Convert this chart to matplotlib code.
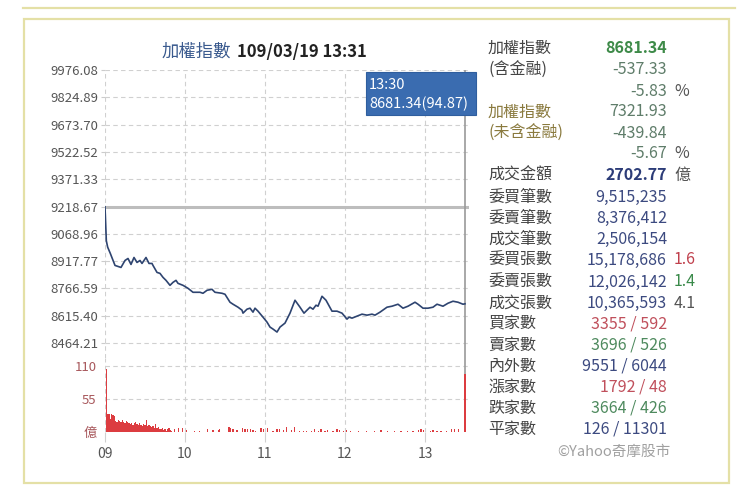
import matplotlib
matplotlib.use("Agg")
import matplotlib.pyplot as plt
from matplotlib.patches import Rectangle
from matplotlib.lines import Line2D

plt.rcParams['font.family'] = ['Noto Sans CJK TC', 'DejaVu Sans']

# ---------------- data ----------------
title_name = "加權指數"
title_time = "109/03/19 13:31"
prev_close = 9218.67
price_ticks = [9976.08, 9824.89, 9673.70, 9522.52, 9371.33, 9218.67,
               9068.96, 8917.77, 8766.59, 8615.40, 8464.21]
hour_ticks = [0, 60, 120, 180, 240]
hour_labels = ["09", "10", "11", "12", "13"]
vol_ticks = [0, 55, 110]
vol_tick_labels = ["億", "55", "110"]

line_minutes = [0, 1, 2, 4, 7.5, 9.75, 12, 15, 17.25, 19.5, 21.75, 24, 26.25, 27.75,
                30.75, 33, 35.25, 36, 39, 41.25, 43.5, 45.75, 48.75, 51, 53.25, 54.75,
                58.5, 62.25, 66, 71.25, 73.5, 76.5, 80.25, 82.5, 87.75, 90, 93.75, 96,
                99.75, 102.75, 103.5, 106.5, 108.75, 111, 112.5, 114.75, 118.5, 121.5,
                123.75, 126, 129, 131.25, 135, 138.75, 142.5, 146.25, 149.25, 151.5,
                153.75, 156, 158.25, 159.75, 162.75, 165.75, 170.25, 174, 177.75, 181.5,
                183, 185.25, 189, 192.75, 196.5, 200.25, 202.5, 206.25, 211.5, 215.25,
                219.75, 223.5, 227.25, 232.5, 234.75, 238.5, 242.25, 246, 249, 253.5,
                257.25, 261, 264.75, 268.5, 270]
line_values = [9218.67, 9030, 8995, 8960, 8893.8, 8888.2, 8882.7, 8921.3, 8932.3, 8899.3,
               8937.8, 8910.3, 8921.3, 8904.8, 8937.8, 8904.8, 8904.8, 8893.8, 8855.2,
               8849.7, 8827.7, 8811.2, 8783.6, 8800.1, 8811.2, 8794.6, 8783.6, 8767.1,
               8745.1, 8745.1, 8739.6, 8756.1, 8761.6, 8745.1, 8739.6, 8734.1, 8690.0,
               8679.0, 8662.5, 8646.0, 8629.5, 8651.5, 8657.0, 8635.0, 8657.0, 8640.5,
               8607.4, 8579.9, 8552.4, 8541.4, 8524.9, 8552.4, 8574.4, 8629.5, 8701.0,
               8662.5, 8629.5, 8646.0, 8662.5, 8651.5, 8673.5, 8668.0, 8723.0, 8701.0,
               8640.5, 8640.5, 8629.5, 8596.4, 8607.4, 8601.9, 8612.9, 8623.9, 8618.4,
               8623.9, 8618.4, 8635.0, 8662.5, 8668.0, 8679.0, 8657.0, 8668.0, 8690.0,
               8679.0, 8657.0, 8657.0, 8662.5, 8679.0, 8668.0, 8684.5, 8695.5, 8690.0,
               8679.0, 8681.34]

vol_minutes = [1, 2, 3, 4, 5, 6, 7, 8, 9, 10, 11, 12, 13, 14, 15, 16, 17, 18, 19, 20,
               21, 22, 23, 24, 25, 26, 27, 28, 29, 30, 31, 32, 33, 34, 35, 36, 37, 38,
               39, 40, 41, 42, 43, 44, 45, 46, 47, 48, 49, 50, 52, 55, 58,
               61, 67, 71, 77, 81, 85, 86, 93, 94, 96, 99, 103, 105, 107, 109, 111, 113,
               117, 119, 122, 126, 129, 131, 134, 136, 140, 142, 146, 149, 151, 155, 157,
               160, 162, 165, 167, 171, 174, 176, 179, 181, 184, 190, 196, 202, 207, 212,
               217, 222, 227, 231, 235, 237, 239, 244, 246, 249, 252, 256, 260, 262, 265,
               270]
vol_values = [105, 30, 29, 22, 29, 28, 26, 18, 16, 20, 18, 17, 19, 17, 15, 18, 16, 14,
              13, 15, 12, 14, 16, 13, 11, 15, 12, 10, 13, 11, 19, 10, 12, 9, 8, 10, 7,
              13, 6, 8, 5, 4, 6, 3, 5, 2, 4, 6, 3, 2, 4, 6, 7,
              3, 2, 2, 5, 3, 3, 4, 8, 7, 4, 3, 6, 5, 4, 5, 3, 2,
              7, 4, 6, 2, 4, 4, 3, 8, 3, 8, 2, 2, 2, 2, 4,
              2, 4, 2, 3, 2, 4, 3, 2, 3, 2, 2, 2, 2, 3, 2,
              2, 2, 2, 2, 3, 4, 3, 2, 3, 2, 2, 2, 5, 5, 5,
              97]

tip_time = "13:30"
tip_value = "8681.34(94.87)"

# right panel rows: (label, label colour, value, value colour, bold, extra, extra colour, y px)
panel_rows = [
    ("加權指數", "#444444", "8681.34", "#3d8a48", True, "", "#555555", 48),
    ("(含金融)", "#444444", "-537.33", "#5f7d6a", False, "", "#555555", 70),
    ("", "#444444", "-5.83", "#5f7d6a", False, "%", "#555555", 91),
    ("加權指數", "#8a7a3e", "7321.93", "#5f7d6a", False, "", "#555555", 112),
    ("(未含金融)", "#8a7a3e", "-439.84", "#5f7d6a", False, "", "#555555", 133),
    ("", "#444444", "-5.67", "#5f7d6a", False, "%", "#555555", 153),
    ("成交金額", "#444444", "2702.77", "#2c3c78", True, "億", "#555555", 175),
    ("委買筆數", "#444444", "9,515,235", "#3c4a80", False, "", "#555555", 197),
    ("委賣筆數", "#444444", "8,376,412", "#3c4a80", False, "", "#555555", 218),
    ("成交筆數", "#444444", "2,506,154", "#3c4a80", False, "", "#555555", 239),
    ("委買張數", "#444444", "15,178,686", "#3c4a80", False, "1.6", "#c0404c", 260),
    ("委賣張數", "#444444", "12,026,142", "#3c4a80", False, "1.4", "#3a8a4a", 282),
    ("成交張數", "#444444", "10,365,593", "#3c4a80", False, "4.1", "#555555", 303),
    ("買家數", "#444444", "3355 / 592", "#c0505c", False, "", "#555555", 324),
    ("賣家數", "#444444", "3696 / 526", "#4e8a5e", False, "", "#555555", 345),
    ("內外數", "#444444", "9551 / 6044", "#3c4a80", False, "", "#555555", 366),
    ("漲家數", "#444444", "1792 / 48", "#c0505c", False, "", "#555555", 387),
    ("跌家數", "#444444", "3664 / 426", "#4e8a5e", False, "", "#555555", 408),
    ("平家數", "#444444", "126 / 11301", "#3c4a80", False, "", "#555555", 429),
]
credit = "©Yahoo奇摩股市"

# ---------------- figure ----------------
W, H = 740, 493
fig = plt.figure(figsize=(W / 100, H / 100), dpi=100)
fig.patch.set_facecolor("white")


def fx(px):
    return px / W


def fy(py):
    return 1 - py / H


frame_col = "#e4e0a6"
fig.add_artist(Line2D([fx(23), fx(735)], [fy(8), fy(8)], color=frame_col, lw=1.6))
fig.add_artist(Rectangle((fx(24), fy(483)), fx(729) - fx(24), fy(19) - fy(483),
                         fill=False, edgecolor=frame_col, lw=1.6))

x_left, x_right = 105, 469
p_top, p_bot = 70, 358
v_bot = 431.7
xlim = (0, 273)

axp = fig.add_axes([fx(x_left), fy(p_bot), fx(x_right) - fx(x_left), fy(p_top) - fy(p_bot)])
axv = fig.add_axes([fx(x_left), fy(v_bot), fx(x_right) - fx(x_left), fy(p_bot) - fy(v_bot)])

grid_kw = dict(color="#d0d0d0", lw=0.8, ls=(0, (4, 3)))
tick_col = "#555555"

# price panel
per_px = (9976.08 - 8464.21) / 273.0
axp.set_ylim(8464.21 - (p_bot - 343) * per_px, 9976.08)
axp.set_xlim(*xlim)
for t in hour_ticks:
    axp.axvline(t, **grid_kw, zorder=0)
for v in price_ticks:
    axp.axhline(v, **grid_kw, zorder=0)
axp.axhline(prev_close, color="#bdbdbd", lw=2.2, zorder=1)
axp.plot(line_minutes, line_values, color="#2e4470", lw=1.2, zorder=3)
axp.set_yticks(price_ticks)
axp.set_yticklabels([f"{v:.2f}" for v in price_ticks], fontsize=9.5, color=tick_col)
axp.tick_params(axis="y", length=3, color="#cccccc", pad=2)
axp.set_xticks([])
for s in axp.spines.values():
    s.set_visible(False)
axp.axvline(270, color="#9a9a9a", lw=1.2, zorder=2)

# volume panel
axv.set_xlim(*xlim)
axv.set_ylim(0, (v_bot - p_bot) / 0.6)
for t in hour_ticks:
    axv.axvline(t, **grid_kw, zorder=0)
for v in vol_ticks[1:]:
    axv.axhline(v, **grid_kw, zorder=0)
axv.bar(vol_minutes, vol_values, width=0.85, color="#dc3c40", edgecolor="none", zorder=3)
axv.axvline(270, color="#9a9a9a", lw=1.2, zorder=2)
axv.set_yticks(vol_ticks)
axv.set_yticklabels(vol_tick_labels, fontsize=9.5, color="#a8585c")
axv.tick_params(axis="y", length=0, pad=6)
axv.set_xticks(hour_ticks)
axv.set_xticklabels(hour_labels, fontsize=10, color=tick_col)
axv.tick_params(axis="x", length=7, color="#d0d0d0", pad=4)
for s in axv.spines.values():
    s.set_visible(False)
axv.axhline(0, color="#e8e8e8", lw=0.6, zorder=1)

# title
fig.text(fx(231), fy(52), title_name, ha="right", va="center", fontsize=12.5, color="#3a5a8e")
fig.text(fx(237), fy(52), title_time, ha="left", va="center", fontsize=12,
         fontweight="bold", color="#222222")

# tooltip
fig.add_artist(Rectangle((fx(366), fy(115)), fx(476) - fx(366), fy(72) - fy(115),
                         facecolor="#3a6cb0", edgecolor="#2f5e9e", lw=0.8, zorder=5))
fig.text(fx(369), fy(85), tip_time, ha="left", va="center", fontsize=10.5, color="white", zorder=6)
fig.text(fx(369), fy(104), tip_value, ha="left", va="center", fontsize=10.5, color="white", zorder=6)

# right panel
for label, lcol, val, vcol, bold, extra, ecol, ypx in panel_rows:
    if label:
        fig.text(fx(488), fy(ypx), label, ha="left", va="center", fontsize=11.5, color=lcol)
    fig.text(fx(667), fy(ypx), val, ha="right", va="center", fontsize=11.5, color=vcol,
             fontweight="bold" if bold else "normal")
    if extra:
        fig.text(fx(674), fy(ypx), extra, ha="left", va="center", fontsize=11.5, color=ecol)
fig.text(fx(670), fy(452), credit, ha="right", va="center", fontsize=10.5, color="#a0a0a0")

fig.savefig("out.png", dpi=100)
